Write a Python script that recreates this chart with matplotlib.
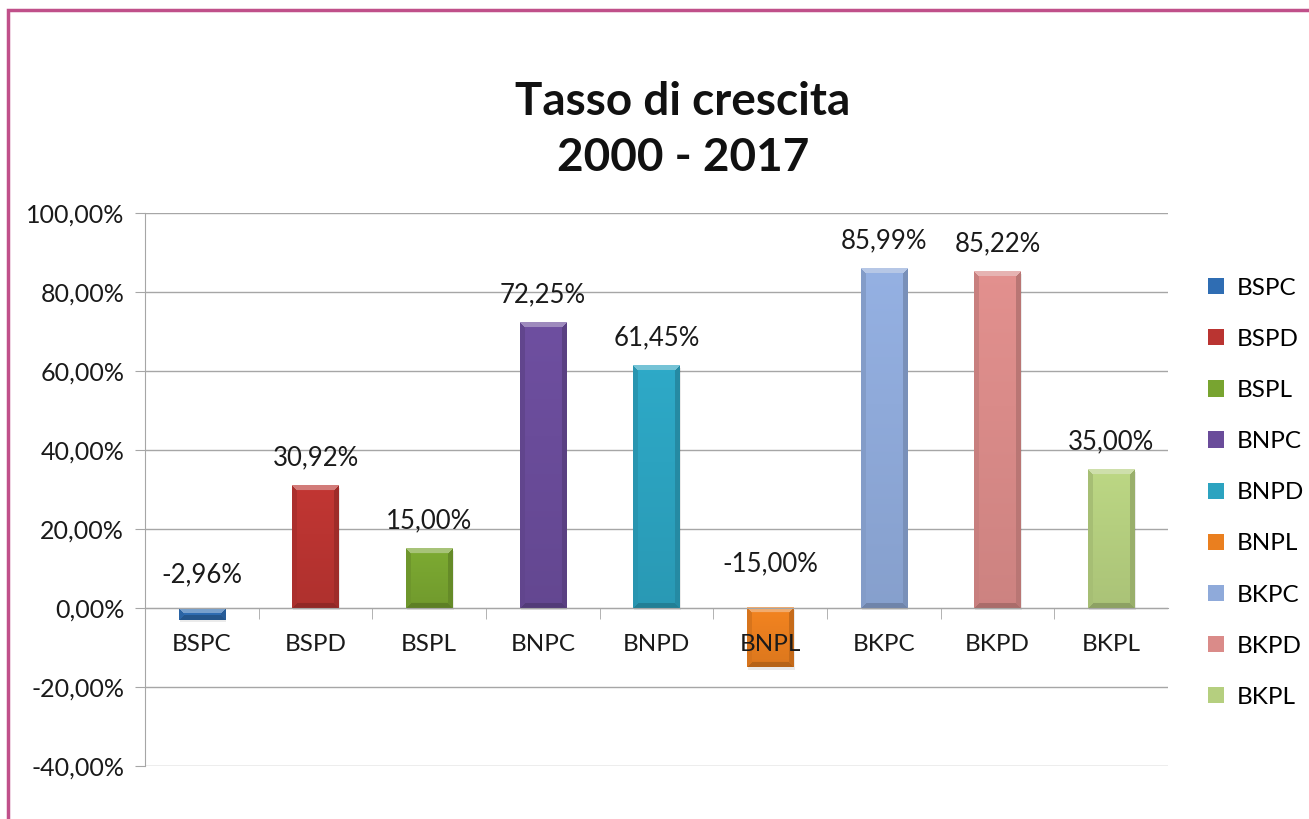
import matplotlib
matplotlib.use("Agg")
import matplotlib.pyplot as plt
import numpy as np
from matplotlib.patches import Rectangle
from matplotlib.ticker import FixedLocator, FuncFormatter
from matplotlib.colors import to_rgb

categories = ["BSPC", "BSPD", "BSPL", "BNPC", "BNPD", "BNPL", "BKPC", "BKPD", "BKPL"]
values = [-2.96, 30.92, 15.00, 72.25, 61.45, -15.00, 85.99, 85.22, 35.00]
colors = ["#2F6DB3", "#BA3431", "#78A430", "#6A4C9A", "#2CA3C0", "#EA7F1F",
          "#8FAADA", "#DA8B89", "#B5CF7F"]
yticks = [-40, -20, 0, 20, 40, 60, 80, 100]

plt.rcParams['font.family'] = ['Lato', 'DejaVu Sans']

fig = plt.figure(figsize=(13.09, 8.19), dpi=100)
ax = fig.add_axes([145/1309, 1-766/819, (1168-145)/1309, (766-213)/819])

x = list(range(len(categories)))
ax.set_xlim(-0.5, len(categories) - 0.5)
ax.set_ylim(-40, 100)

bars = ax.bar(x, values, width=0.41, color=colors, edgecolor='none', zorder=3)
for b, cat in zip(bars, categories):
    b.set_label(cat)


def shade(c, f):
    r = np.array(to_rgb(c))
    if f >= 1:
        return r + (1 - r) * (f - 1)
    return r * f


# bevel shading drawn inside each bar
for b, c in zip(bars, colors):
    x0, y0, w, h = b.get_x(), b.get_y(), b.get_width(), b.get_height()
    ylo, yhi = min(y0, y0 + h), max(y0, y0 + h)
    p0 = ax.transData.transform((x0, ylo))
    p1 = ax.transData.transform((x0 + w, yhi))
    wp = max(int(round(p1[0] - p0[0])), 2)
    hp = max(int(round(p1[1] - p0[1])), 2)
    bev = 5
    img = np.zeros((hp, wp, 3))
    jj, ii = np.meshgrid(np.arange(wp), np.arange(hp))
    dl = jj + 0.5
    dr = wp - jj - 0.5
    dt = ii + 0.5
    db = hp - ii - 0.5
    d = np.stack([dt, dl, dr, db])
    idx = np.argmin(d, axis=0)
    dmin = np.min(d, axis=0)
    facs = [1.35, 0.92, 0.85, 0.78]
    base = shade(c, 1.0)
    for k, f in enumerate(facs):
        col = shade(c, f)
        m = (idx == k) & (dmin < bev)
        img[m] = col
    img[dmin >= bev] = base
    grad = np.linspace(1.04, 0.94, hp)[:, None, None]
    body = (dmin >= bev)[:, :, None]
    img = np.where(body, np.clip(img * grad, 0, 1), img)
    ax.imshow(img, extent=(x0, x0 + w, ylo, yhi), origin='upper', aspect='auto',
              interpolation='bilinear', zorder=3.1)
    ax.add_patch(Rectangle((x0 + 0.01, ylo - 0.6), w, yhi - ylo, facecolor='#000000',
                           alpha=0.08, edgecolor='none', zorder=2.9))

ax.set_xlim(-0.5, len(categories) - 0.5)
ax.set_ylim(-40, 100)
ax.yaxis.set_major_locator(FixedLocator(yticks))
ax.yaxis.set_major_formatter(FuncFormatter(lambda v, p: f"{v:.2f}%".replace(".", ",")))
ax.grid(axis='y', color='#A6A6A6', linewidth=1.0, zorder=0)
ax.set_axisbelow(True)
ax.xaxis.set_zorder(5)

for s in ['top', 'right']:
    ax.spines[s].set_visible(False)
ax.spines['left'].set_color('#A6A6A6')
ax.spines['bottom'].set_position(('data', 0))
ax.spines['bottom'].set_color('#A6A6A6')
ax.spines['bottom'].set_zorder(4)

ax.set_xticks(x)
ax.set_xticklabels(categories)
ax.set_xticks([i + 0.5 for i in x[:-1]], minor=True)
ax.tick_params(axis='x', which='major', length=0, pad=19, labelsize=17.5, labelcolor='#1a1a1a')
ax.tick_params(axis='x', which='minor', length=8, color='#A6A6A6', direction='out')
ax.tick_params(axis='y', length=7, color='#A6A6A6', labelsize=18, labelcolor='#1a1a1a', pad=8)

# data labels
for xi, v in zip(x, values):
    txt = f"{v:.2f}%".replace(".", ",")
    if v >= 0:
        ax.annotate(txt, (xi, v), xytext=(0, 20), textcoords='offset points',
                    ha='center', va='center', fontsize=18.5, color='#1a1a1a', zorder=6)
    else:
        ax.annotate(txt, (xi, 0), xytext=(0, 22 - v * 0.65), textcoords='offset points',
                    ha='center', va='center', fontsize=18.5, color='#1a1a1a', zorder=6)

fig.text(683/1309, 1-130/819, "Tasso di crescita\n2000 - 2017", ha='center', va='center',
         fontsize=33, fontweight='bold', linespacing=1.42, color='#111111')

leg = fig.legend(handles=list(bars), labels=categories, loc='upper left',
                 bbox_to_anchor=(1198/1309, 1-268/819), frameon=False,
                 fontsize=17.5, handlelength=0.65, handleheight=0.65,
                 handletextpad=0.55, labelspacing=1.24, borderaxespad=0)

fig.patches.append(Rectangle((8/1309, -0.1), 1.2, 1 - 10/819 + 0.1, transform=fig.transFigure,
                             fill=False, edgecolor='#C0508A', linewidth=2.5, zorder=10))

fig.savefig("out.png", dpi=100)
